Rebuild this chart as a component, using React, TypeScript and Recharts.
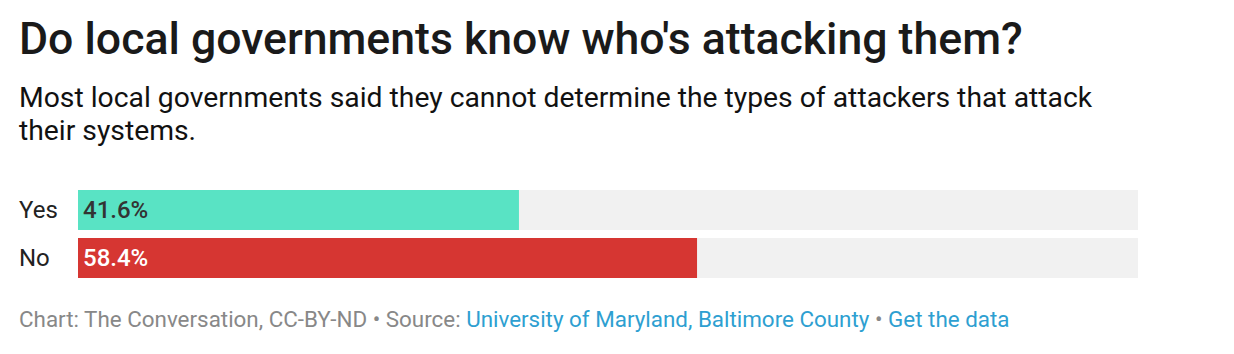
import React from "react";
import { BarChart, Bar, XAxis, YAxis, Cell, LabelList } from "recharts";

const categories = ["Yes", "No"];
const values = [41.6, 58.4];
const valueLabels = ["41.6%", "58.4%"];
const barColors = ["#59e3c4", "#d63632"];
const labelColors = ["#333333", "#ffffff"];

const data = categories.map((c, i) => ({ name: c, value: values[i], label: valueLabels[i] }));

const FONT = "Roboto, 'Noto Sans', sans-serif";
const LEFT = 19;
const AXIS_W = 59;

const Tick = (props: any) => {
  const { y, payload } = props;
  return (
    <text x={LEFT} y={y} dy={7.5} textAnchor="start" fontFamily={FONT} fontSize={24} fill="#222">
      {payload.value}
    </text>
  );
};

const ValueLabel = (props: any) => {
  const { x, y, height, index } = props;
  return (
    <text
      x={x + 5}
      y={y + height / 2}
      dy={7.5}
      fontFamily={FONT}
      fontSize={24}
      fontWeight={500}
      fill={labelColors[index]}
    >
      {valueLabels[index]}
    </text>
  );
};

export default function App() {
  return (
    <div style={{ position: "absolute", left: 0, top: 0, width: 1234, height: 354, background: "#fff", fontFamily: FONT }}>
      <div style={{ position: "absolute", left: 19, top: 17, fontSize: 44.6, lineHeight: "44px", fontWeight: 500, color: "#1a1a1a", whiteSpace: "nowrap" }}>
        Do local governments know who's attacking them?
      </div>
      <div style={{ position: "absolute", left: 19, top: 81, fontSize: 28.3, lineHeight: "33px", color: "#111", whiteSpace: "nowrap" }}>
        Most local governments said they cannot determine the types of attackers that attack
        <br />
        their systems.
      </div>
      <div style={{ position: "absolute", left: 0, top: 186 }}>
        <BarChart
          width={1234}
          height={96}
          data={data}
          layout="vertical"
          margin={{ top: 0, right: 96, bottom: 0, left: LEFT }}
          barCategoryGap={4}
        >
          <XAxis type="number" domain={[0, 100]} hide />
          <YAxis type="category" dataKey="name" width={AXIS_W} axisLine={false} tickLine={false} tick={<Tick />} />
          <Bar dataKey="value" isAnimationActive={false} background={{ fill: "#f1f1f1" }}>
            {data.map((d, i) => (
              <Cell key={d.name} fill={barColors[i]} />
            ))}
            <LabelList dataKey="label" content={<ValueLabel />} />
          </Bar>
        </BarChart>
      </div>
      <div style={{ position: "absolute", left: 19, top: 308, fontSize: 22.4, lineHeight: "22px", color: "#888", whiteSpace: "nowrap" }}>
        Chart: The Conversation, CC-BY-ND • Source: <span style={{ color: "#2e9fd1" }}>University of Maryland, Baltimore County</span> • <span style={{ color: "#2e9fd1" }}>Get the data</span>
      </div>
    </div>
  );
}
